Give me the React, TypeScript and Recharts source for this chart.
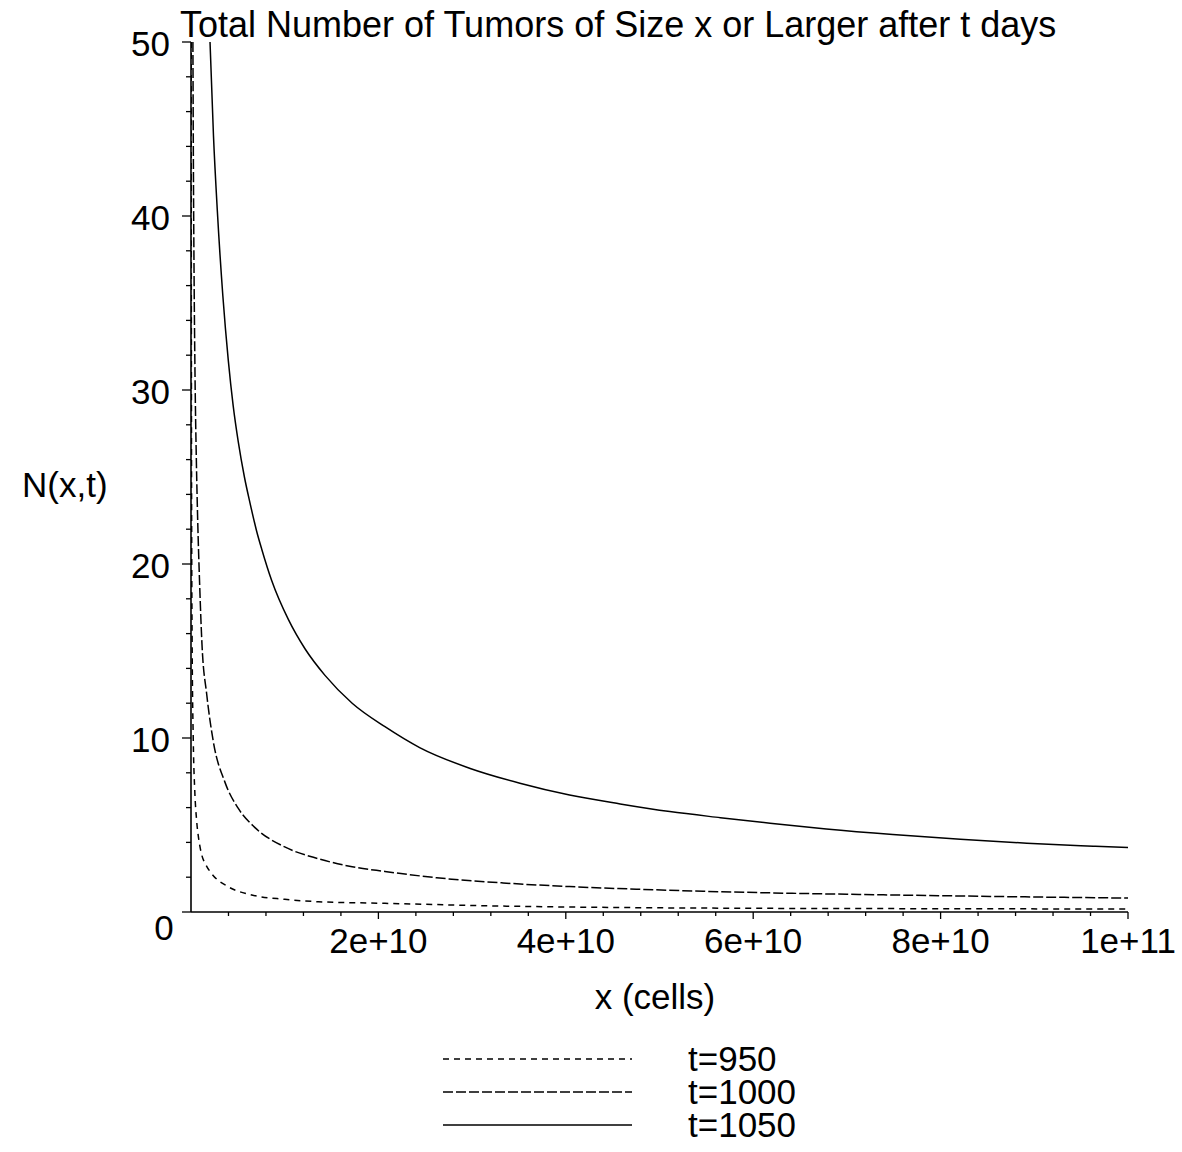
import React from "react";
import { LineChart, Line, XAxis, YAxis, Legend } from "recharts";

// ---- data (x in cells, N(x,t)) ----
const x950 = [2.1e7, 3.0e7, 4.5e7, 7.5e7, 1.2e8, 2.45e8, 4.0e8, 6.1e8, 8.5e8, 1.14e9, 1.6e9, 2.21e9, 3.98e9, 6.48e9, 1.0e10, 1.36e10, 2.07e10, 3.33e10, 4.76e10, 6.18e10, 8.0e10, 1.0e11];
const n950 = [50, 39, 30, 21, 15.5, 9.8, 7.0, 5.2, 4.1, 3.3, 2.7, 2.2, 1.45, 0.98, 0.73, 0.59, 0.5, 0.34, 0.25, 0.21, 0.19, 0.17];

const x1000 = [2.03e8, 2.6e8, 3.3e8, 4.3e8, 5.7e8, 7.15e8, 9.0e8, 1.17e9, 1.68e9, 2.38e9, 3.63e9, 5.05e9, 6.83e9, 1.0e10, 1.36e10, 1.72e10, 2.07e10, 2.62e10, 3.33e10, 4.04e10, 4.76e10, 5.47e10, 6.18e10, 7.0e10, 7.85e10, 8.9e10, 1.0e11];
const n1000 = [50, 42.5, 36.5, 30.8, 26, 22.5, 19.2, 15.4, 12.5, 9.8, 7.45, 5.95, 4.85, 3.74, 3.06, 2.6, 2.33, 1.97, 1.67, 1.46, 1.31, 1.19, 1.1, 1.02, 0.95, 0.87, 0.8];

const x1050 = [2.03e9, 2.4e9, 2.81e9, 3.4e9, 3.98e9, 4.5e9, 5.05e9, 5.7e9, 6.3e9, 7.0e9, 7.55e9, 8.61e9, 1.04e10, 1.22e10, 1.43e10, 1.72e10, 2.07e10, 2.44e10, 2.98e10, 3.51e10, 4.04e10, 4.58e10, 5.11e10, 5.65e10, 6.18e10, 6.78e10, 7.49e10, 8.21e10, 8.92e10, 9.63e10, 1.0e11];
const n1050 = [50, 44.6, 40.3, 35.4, 31.7, 29.1, 27.0, 25.0, 23.5, 21.9, 20.85, 19.05, 16.8, 15.1, 13.6, 12.0, 10.65, 9.45, 8.25, 7.4, 6.72, 6.21, 5.77, 5.42, 5.1, 4.77, 4.45, 4.18, 3.95, 3.78, 3.7];

const seriesNames = ["t=950", "t=1000", "t=1050"];
const seriesDash = ["6 5", "10 3", ""];

const xMajorTicks = [2e10, 4e10, 6e10, 8e10, 1e11];
const xMajorLabels = ["2e+10", "4e+10", "6e+10", "8e+10", "1e+11"];
const xMinorStep = 4e9;
const yMajorTicks = [0, 10, 20, 30, 40, 50];
const yMajorLabels = ["0", "10", "20", "30", "40", "50"];
const yMinorStep = 2;

const title = "Total Number of Tumors of Size x or Larger after t days";
const xTitle = "x (cells)";
const yTitle = "N(x,t)";

// ---- build ----
const toData = (xs: number[], ns: number[]) => xs.map((x, i) => ({ x, n: ns[i] }));
const seriesData = [toData(x950, n950), toData(x1000, n1000), toData(x1050, n1050)];

const xTicks: number[] = [];
for (let i = 0; i <= 25; i++) xTicks.push(i * xMinorStep);
const yTicks: number[] = [];
for (let i = 0; i <= 25; i++) yTicks.push(i * yMinorStep);

const FONT = "'Liberation Sans', Arial, Helvetica, sans-serif";
const FS = 35;

const near = (a: number, b: number, tol: number) => Math.abs(a - b) < tol;

const XTick = (props: any) => {
  const { x, y, payload } = props;
  const v = payload.value as number;
  if (near(v, 0, 1)) {
    return (
      <text x={x - 27} y={y + 28} textAnchor="middle" fontSize={FS} fontFamily={FONT} fill="#000">
        0
      </text>
    );
  }
  const idx = xMajorTicks.findIndex((m) => near(m, v, 1e6));
  const major = idx >= 0;
  return (
    <g>
      <line x1={x} x2={x} y1={y} y2={y + (major ? 7 : 4)} stroke="#000" strokeWidth={1.3} />
      {major && (
        <text x={x} y={y + 41} textAnchor="middle" fontSize={FS} fontFamily={FONT} fill="#000">
          {xMajorLabels[idx]}
        </text>
      )}
    </g>
  );
};

const YTick = (props: any) => {
  const { x, y, payload } = props;
  const v = payload.value as number;
  const idx = yMajorTicks.findIndex((m) => near(m, v, 1e-6));
  const major = idx >= 0;
  return (
    <g>
      <line x1={x} x2={x - (major ? 9 : 5)} y1={y} y2={y} stroke="#000" strokeWidth={1.3} />
      {major && idx > 0 && (
        <text x={x - 21} y={y + 14} textAnchor="end" fontSize={FS} fontFamily={FONT} fill="#000">
          {yMajorLabels[idx]}
        </text>
      )}
    </g>
  );
};

const legendLineY = [1059, 1092, 1125];
const LEG_TOP = 1030;

const LegendContent = () => (
  <svg width={1182} height={122} style={{ display: "block" }}>
    {seriesNames.map((name, i) => (
      <g key={name}>
        <line
          x1={443}
          x2={632}
          y1={legendLineY[i] - LEG_TOP}
          y2={legendLineY[i] - LEG_TOP}
          stroke="#000"
          strokeWidth={1.5}
          strokeDasharray={seriesDash[i] || undefined}
        />
        <text x={688} y={legendLineY[i] - LEG_TOP + 12} fontSize={FS} fontFamily={FONT} fill="#000">
          {name}
        </text>
      </g>
    ))}
  </svg>
);

export default function App() {
  return (
    <div style={{ position: "absolute", left: 0, top: 0, width: 1182, height: 1152, background: "#fff" }}>
      <LineChart width={1182} height={1152} margin={{ top: 42, right: 54, left: 0, bottom: 0 }}>
        <XAxis
          type="number"
          dataKey="x"
          domain={[0, 1e11]}
          ticks={xTicks}
          interval={0}
          allowDataOverflow
          height={240}
          tickSize={0}
          tickMargin={0}
          tickLine={false}
          tick={<XTick />}
          axisLine={{ stroke: "#000", strokeWidth: 1.6 }}
        />
        <YAxis
          type="number"
          domain={[0, 50]}
          ticks={yTicks}
          interval={0}
          allowDataOverflow
          width={191}
          tickSize={0}
          tickMargin={0}
          tickLine={false}
          tick={<YTick />}
          axisLine={{ stroke: "#000", strokeWidth: 1.6 }}
        />
        {seriesData.map((d, i) => (
          <Line
            key={seriesNames[i]}
            data={d}
            dataKey="n"
            name={seriesNames[i]}
            type="monotone"
            stroke="#000"
            strokeWidth={1.5}
            strokeDasharray={seriesDash[i] || undefined}
            dot={false}
            activeDot={false}
            isAnimationActive={false}
          />
        ))}
        <Legend
          layout="horizontal"
          verticalAlign="middle"
          align="center"
          content={<LegendContent />}
          wrapperStyle={{ position: "absolute", left: 0, top: LEG_TOP, width: 1182, height: 122 }}
        />
        <text x={180} y={37} fontSize={36} fontFamily={FONT} fill="#000">
          {title}
        </text>
        <text x={22} y={497} fontSize={FS} fontFamily={FONT} fill="#000">
          {yTitle}
        </text>
        <text x={655} y={1009} textAnchor="middle" fontSize={FS} fontFamily={FONT} fill="#000">
          {xTitle}
        </text>
      </LineChart>
    </div>
  );
}
